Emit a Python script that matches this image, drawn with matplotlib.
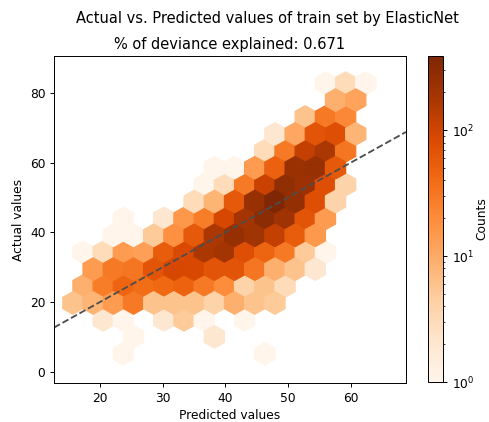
import numpy as np
import matplotlib
matplotlib.use("Agg")
import matplotlib.pyplot as plt

# Train set predictions grouped into hexagonal bins:
# predicted value, actual value and number of samples per bin
predicted = [
    56.0, 59.2, 62.4,
    57.6, 60.8,
    52.7, 56.0, 59.2,
    47.9, 51.1, 54.3, 57.6, 60.8,
    46.3, 49.5, 52.7, 56.0, 59.2,
    38.2, 41.5, 44.7, 47.9, 51.1, 54.3, 57.6,
    36.6, 39.9, 43.1, 46.3, 49.5, 52.7, 56.0, 59.2,
    35.0, 38.2, 41.5, 44.7, 47.9, 51.1, 54.3, 57.6,
    23.8, 30.2, 33.4, 36.6, 39.9, 43.1, 46.3, 49.5, 52.7, 56.0,
    22.1, 25.4, 28.6, 31.8, 35.0, 38.2, 41.5, 44.7, 47.9, 51.1, 54.3,
    17.3, 20.5, 23.8, 27.0, 30.2, 33.4, 36.6, 39.9, 43.1, 46.3, 49.5, 52.7, 56.0,
    18.9, 22.1, 25.4, 28.6, 31.8, 35.0, 38.2, 41.5, 44.7, 47.9, 51.1, 54.3,
    17.3, 20.5, 23.8, 27.0, 30.2, 33.4, 36.6, 39.9, 43.1, 46.3, 49.5,
    15.7, 18.9, 22.1, 25.4, 28.6, 31.8, 35.0, 38.2, 41.5, 44.7, 47.9,
    20.5, 23.8, 30.2, 33.4, 36.6, 43.1,
    25.4, 38.2,
    23.8, 46.3,
]

actual = [
    82.8, 82.8, 82.8,
    78.0, 78.0,
    73.1, 73.1, 73.1,
    68.3, 68.3, 68.3, 68.3, 68.3,
    63.4, 63.4, 63.4, 63.4, 63.4,
    58.6, 58.6, 58.6, 58.6, 58.6, 58.6, 58.6,
    53.7, 53.7, 53.7, 53.7, 53.7, 53.7, 53.7, 53.7,
    48.9, 48.9, 48.9, 48.9, 48.9, 48.9, 48.9, 48.9,
    44.0, 44.0, 44.0, 44.0, 44.0, 44.0, 44.0, 44.0, 44.0, 44.0,
    39.2, 39.2, 39.2, 39.2, 39.2, 39.2, 39.2, 39.2, 39.2, 39.2, 39.2,
    34.3, 34.3, 34.3, 34.3, 34.3, 34.3, 34.3, 34.3, 34.3, 34.3, 34.3, 34.3, 34.3,
    29.5, 29.5, 29.5, 29.5, 29.5, 29.5, 29.5, 29.5, 29.5, 29.5, 29.5, 29.5,
    24.6, 24.6, 24.6, 24.6, 24.6, 24.6, 24.6, 24.6, 24.6, 24.6, 24.6,
    19.8, 19.8, 19.8, 19.8, 19.8, 19.8, 19.8, 19.8, 19.8, 19.8, 19.8,
    14.9, 14.9, 14.9, 14.9, 14.9, 14.9,
    10.1, 10.1,
    5.2, 5.2,
]

counts = [
    1, 3, 1,
    9, 12,
    6, 30, 22,
    2, 11, 65, 75, 8,
    3, 30, 120, 170, 32,
    1, 1, 14, 50, 230, 240, 60,
    1, 3, 30, 110, 280, 220, 75, 4,
    3, 8, 60, 240, 390, 260, 75, 4,
    1, 2, 16, 28, 90, 190, 300, 210, 65, 14,
    1, 1, 5, 18, 60, 170, 250, 200, 120, 55, 15,
    1, 3, 14, 13, 55, 85, 170, 190, 75, 45, 30, 5, 1,
    14, 30, 32, 65, 90, 88, 65, 65, 32, 9, 6, 2,
    9, 28, 45, 38, 42, 48, 30, 20, 4, 6, 3,
    6, 8, 14, 30, 6, 6, 6, 4, 9, 6, 5,
    2, 1, 2, 5, 1, 1,
    1, 2,
    1, 1,
]

deviance_explained = 0.671

fig = plt.figure(figsize=(5.568, 4.796), dpi=88)
ax = fig.add_axes([0.1102, 0.0924, 0.7184, 0.7749])
cax = fig.add_axes([0.8735, 0.0948, 0.0306, 0.7725])

# hexbin of the predictions, log colour scale
hb = ax.hexbin(predicted, actual, C=counts, reduce_C_function=np.sum,
               gridsize=(15, 8), extent=(14.1, 62.4, 5.2, 82.8),
               bins="log", cmap="Oranges")

# identity line (perfect prediction)
ax.axline((0, 0), slope=1, color="0.3", linestyle="--", linewidth=1.5)

ax.set_xlim(12.7, 68.8)
ax.set_ylim(-3.2, 90.6)
ax.set_xticks([20, 30, 40, 50, 60])
ax.set_yticks([0, 20, 40, 60, 80])
ax.set_xlabel("Predicted values")
ax.set_ylabel("Actual values")
ax.set_title(f"% of deviance explained: {deviance_explained}")
fig.text(0.545, 0.957, "Actual vs. Predicted values of train set by ElasticNet",
         ha="center", va="center", fontsize=12)

cb = fig.colorbar(hb, cax=cax)
cb.set_label("Counts", labelpad=1)

fig.savefig("out.png", dpi=88)
